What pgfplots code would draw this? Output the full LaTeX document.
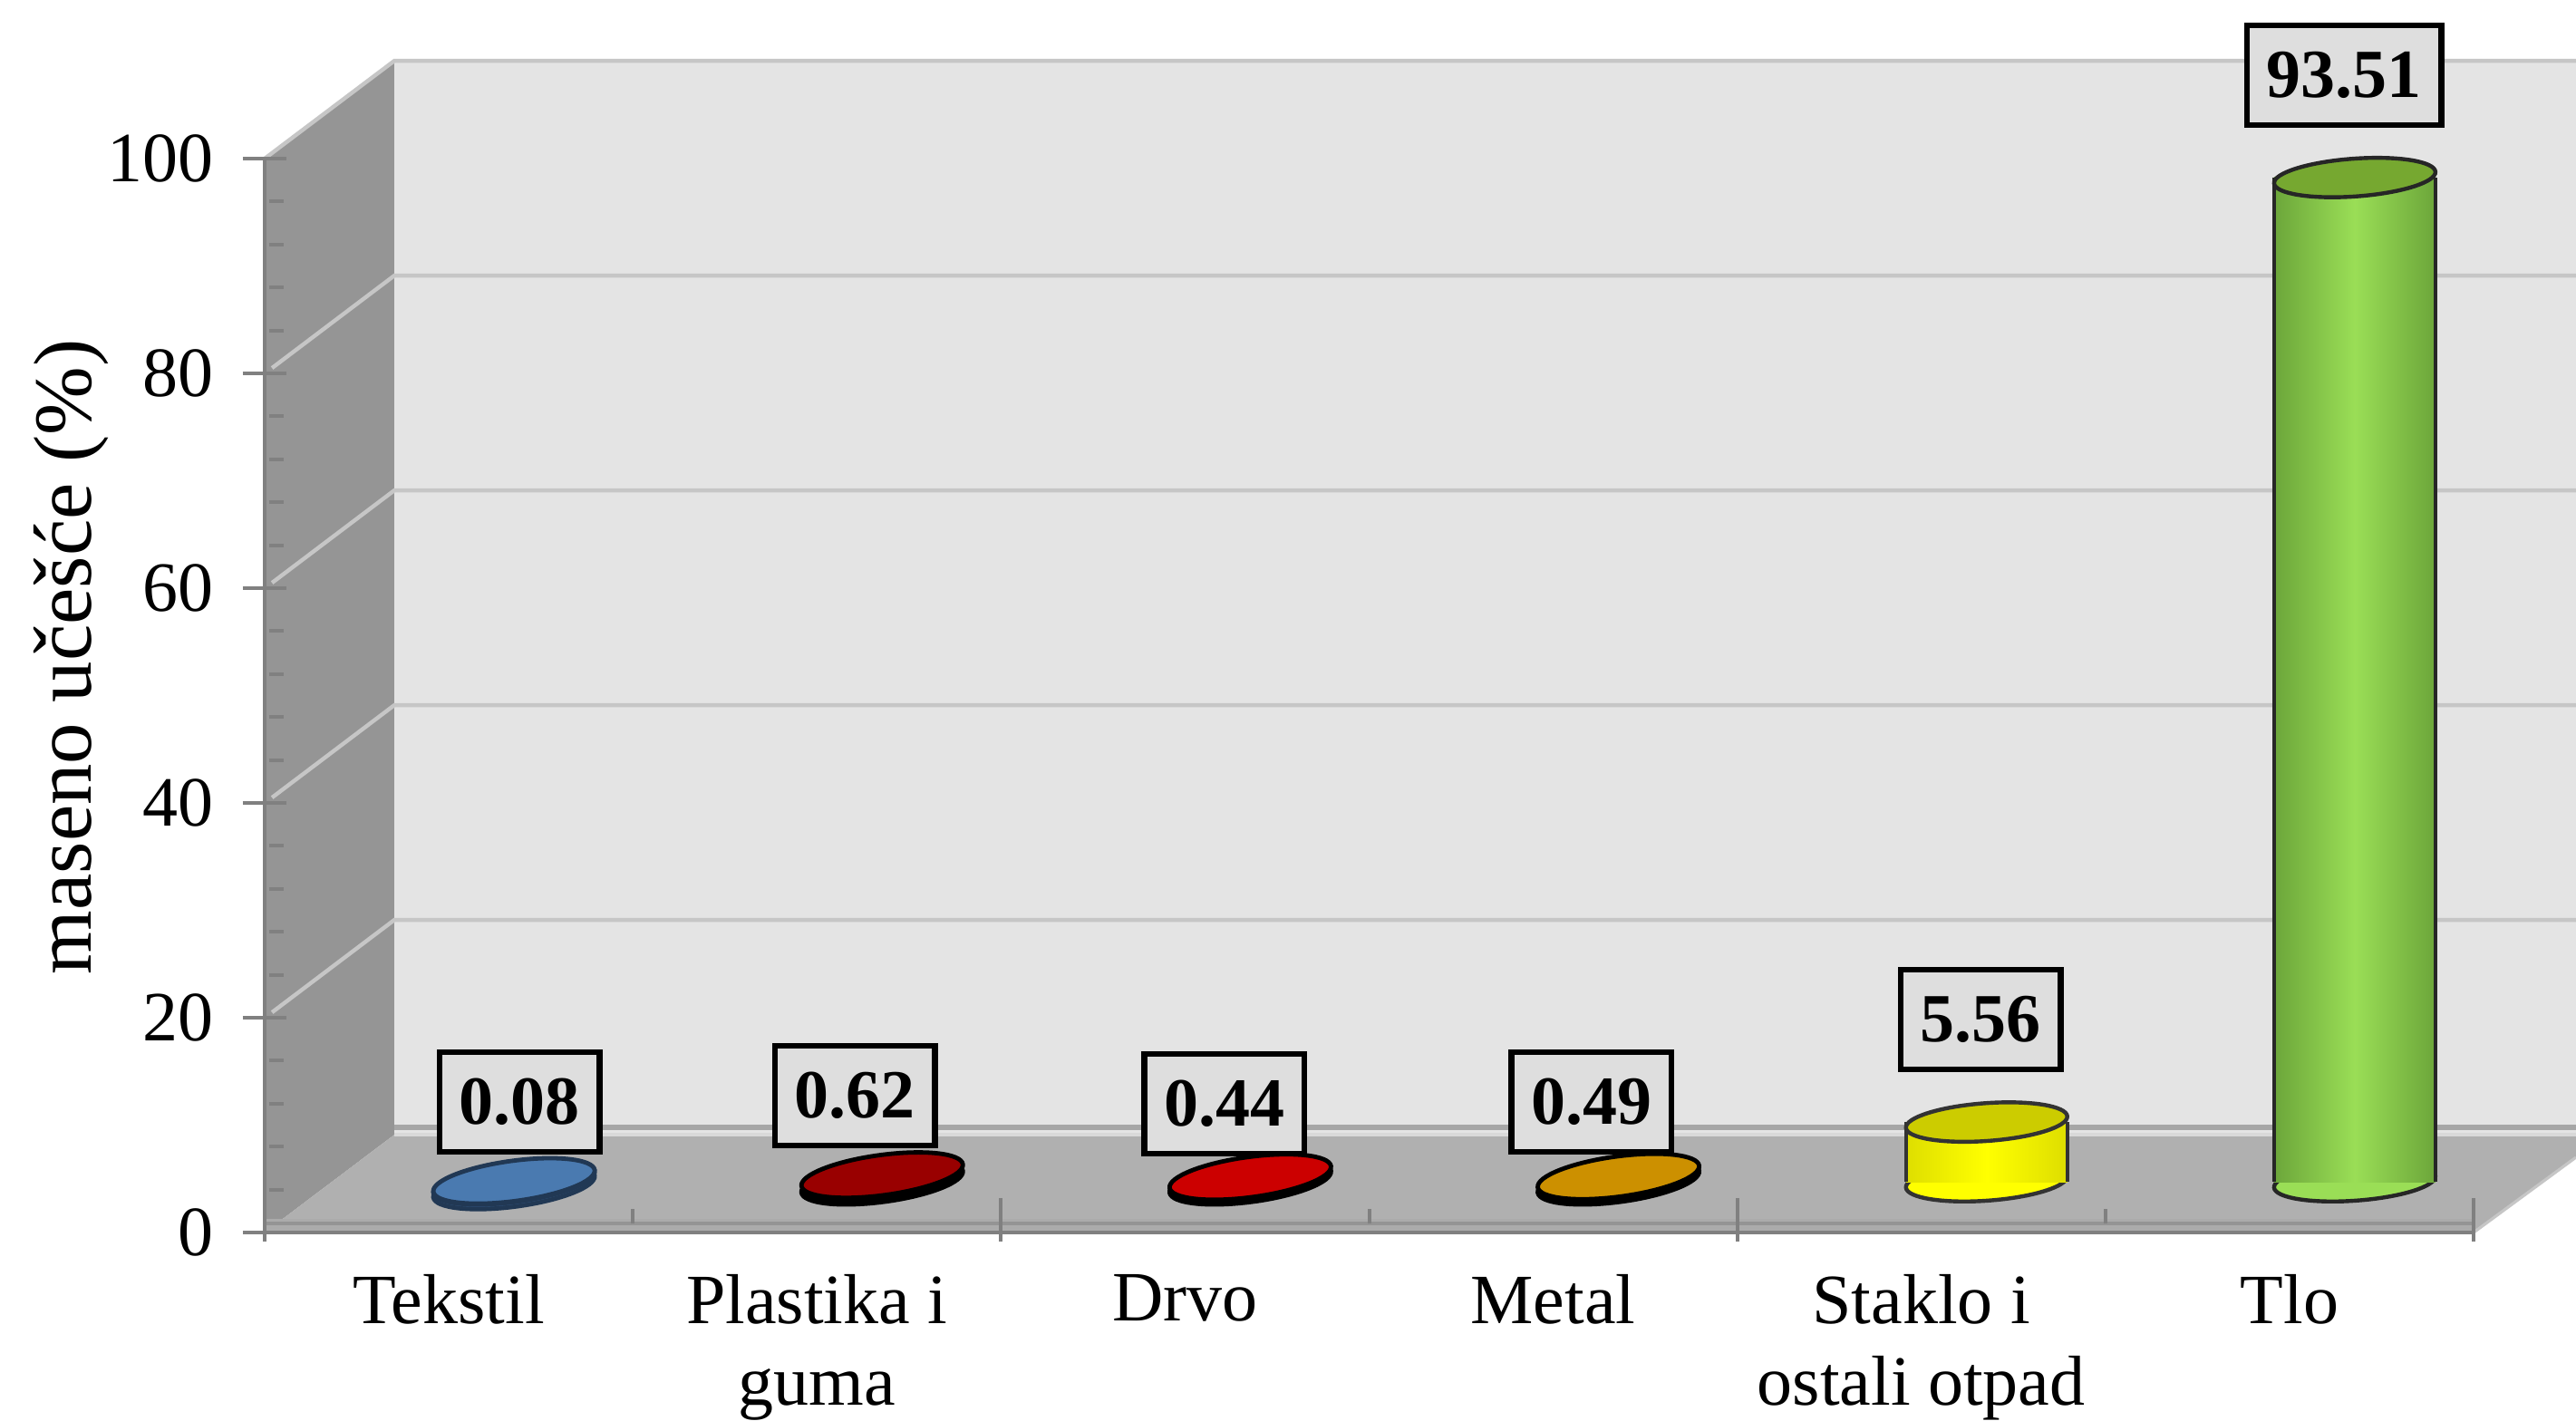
\documentclass[border=0pt]{standalone}
\usepackage{pgfplots}
\usepackage{fontspec}
\setmainfont{Liberation Serif}
\pgfplotsset{compat=1.18}

\definecolor{backwall}{HTML}{E4E4E4}
\definecolor{sidewall}{HTML}{959595}
\definecolor{floorc}{HTML}{B0B0B0}
\definecolor{gridc}{HTML}{C6C6C6}
\definecolor{tickc}{HTML}{808080}
\definecolor{tekstil}{HTML}{4A7AB0}
\definecolor{tekstild}{HTML}{2F5078}
\definecolor{plastika}{HTML}{990000}
\definecolor{drvo}{HTML}{CC0000}
\definecolor{metal}{HTML}{CC9000}
\definecolor{stakloe}{HTML}{DEDE00}
\definecolor{staklom}{HTML}{FFFF00}
\definecolor{staklot}{HTML}{CCCC00}
\definecolor{tloe}{HTML}{6CA63A}
\definecolor{tlom}{HTML}{9ADE56}
\definecolor{tlot}{HTML}{76A830}

% cylinder ends, flat ones lean a bit more
\pgfdeclareplotmark{endflat}{\pgfpathellipse{\pgfpointorigin}{\pgfqpoint{22.25pt}{3pt}}{\pgfqpoint{-0.75pt}{5.5pt}}\pgfusepathqfillstroke}
\pgfdeclareplotmark{endrim}{\pgfpathellipse{\pgfqpoint{0pt}{-1.3pt}}{\pgfqpoint{22.25pt}{3pt}}{\pgfqpoint{-0.75pt}{5.5pt}}\pgfusepathqfillstroke}
\pgfdeclareplotmark{endtall}{\pgfpathellipse{\pgfpointorigin}{\pgfqpoint{22.25pt}{1.6pt}}{\pgfqpoint{-0.4pt}{5.2pt}}\pgfusepathqfillstroke}

\tikzset{cylshift/.style={xshift=18pt,yshift=14pt}}

% x, value, top colour, rim colour, outline
\newcommand{\flatcyl}[5]{%
  \addplot[only marks,cylshift,mark=endflat,mark options={fill=#4,draw=#5,line width=1.2pt}] coordinates {(#1,0)};
  \addplot[only marks,cylshift,mark=endflat,mark options={fill=#3,draw=#5,line width=1.2pt}] coordinates {(#1,#2)};
}
% x, value, edge colour, middle colour, top colour, outline
\newcommand{\tallcyl}[6]{%
  \addplot[only marks,cylshift,mark=endtall,mark options={fill=#4,draw=#6,line width=1.1pt}] coordinates {(#1,0)};
  \addplot[ybar,bar width=44.5pt,bar shift=0pt,draw=none,left color=#3,right color=#3,middle color=#4,cylshift] coordinates {(#1,#2)};
  \addplot[#6,line width=1.1pt,cylshift,xshift=-22.25pt] coordinates {(#1,0) (#1,#2)};
  \addplot[#6,line width=1.1pt,cylshift,xshift=22.25pt] coordinates {(#1,0) (#1,#2)};
  \addplot[only marks,cylshift,mark=endtall,mark options={fill=#5,draw=#6,line width=1.1pt}] coordinates {(#1,#2)};
}

\begin{document}
\begin{tikzpicture}
\useasboundingbox (0,0) rectangle (710.5pt,391.75pt);
\begin{axis}[
  at={(73pt,51.75pt)}, anchor=south west,
  scale only axis, width=609.25pt, height=296.25pt,
  xmin=-0.5, xmax=5.5, ymin=0, ymax=100,
  clip=false, clip mode=individual, axis on top,
  axis lines=left,
  axis line style={-,tickc,line width=1pt},
  % x-axis
  xtick={-0.5,1.5,3.5,5.5},
  xticklabels={},
  minor xtick={0.5,2.5,4.5},
  extra x ticks={0,1,2,3,4,5},
  extra x tick labels={Tekstil,{Plastika i\\guma},Drvo,Metal,{Staklo i\\ostali otpad},Tlo},
  extra x tick style={major tick length=0pt},
  x tick label style={align=center,font=\fontsize{19.5}{22.6}\selectfont,yshift=-8pt},
  x tick style={tickc,line width=1pt},
  xtick align=inside,
  major x tick style={yshift=-2.5pt},
  minor x tick style={yshift=2.5pt},
  major tick length=12pt,
  minor tick length=4pt,
  % y-axis
  ytick={0,20,40,60,80,100},
  minor y tick num=4,
  y tick style={tickc,line width=1pt},
  minor y tick style={black!50,xshift=3.25pt},
  ytick align=center,
  y tick label style={font=\fontsize{19.5}{22}\selectfont,xshift=-4.5pt},
  /pgf/number format/assume math mode=true,
  ylabel={maseno učešće (\%)},
  every axis y label/.style={at={(rel axis cs:-0.0875,0.536)},rotate=90,anchor=center,font=\fontsize{22.7}{26}\selectfont},
]

% walls and floor
\addplot[draw=none,fill=backwall] coordinates {(-0.148,109.1) (5.778,109.1) (5.778,9.1) (-0.148,9.1)} -- cycle;
\addplot[draw=none,fill=sidewall] coordinates {(-0.5,0) (-0.5,100) (-0.148,109.1) (-0.148,9.1)} -- cycle;

% grid on the walls
\addplot[gridc,line width=1.1pt] coordinates {(-0.5,100) (-0.148,109.1) (5.778,109.1)};
\addplot[gridc,line width=1.1pt] coordinates {(-0.48,80.5) (-0.148,89.1) (5.778,89.1)};
\addplot[gridc,line width=1.1pt] coordinates {(-0.48,60.5) (-0.148,69.1) (5.778,69.1)};
\addplot[gridc,line width=1.1pt] coordinates {(-0.48,40.5) (-0.148,49.1) (5.778,49.1)};
\addplot[gridc,line width=1.1pt] coordinates {(-0.48,20.5) (-0.148,29.1) (5.778,29.1)};

\addplot[draw=none,fill=floorc] coordinates {(-0.451,1.27) (-0.148,9.1) (5.778,9.1) (5.778,7.0) (5.5,0)} -- cycle;
\addplot[color=gray!70,line width=1.5pt] coordinates {(-0.148,9.75) (5.778,9.75)};
\addplot[color=black!15,line width=1pt] coordinates {(-0.148,9.1) (5.778,9.1)};
\addplot[color=gridc,line width=0.8pt] coordinates {(5.5,0) (5.778,7.0)};

% front edge of the floor
\addplot[draw=none,fill=black!33] coordinates {(-0.5,0) (-0.5,1.27) (5.5,1.27) (5.5,0)} -- cycle;
\addplot[color=black!42,line width=1pt] coordinates {(-0.5,0.85) (5.5,0.85)};

% cylinders
\addplot[only marks,cylshift,mark=endrim,mark options={fill=tekstild,draw=tekstild!70!black,line width=1.2pt}] coordinates {(0,0)};
\flatcyl{0}{0.08}{tekstil}{tekstild}{tekstild!70!black}
\flatcyl{1}{0.62}{plastika}{black}{black}
\flatcyl{2}{0.44}{drvo}{black}{black}
\flatcyl{3}{0.49}{metal}{black}{black}
\tallcyl{4}{5.56}{stakloe}{staklom}{staklot}{black!80}
\tallcyl{5}{93.51}{tloe}{tlom}{tlot}{black!85}

% value labels
\tikzset{vallabel/.style={draw=black,line width=1.7pt,fill=black!13,inner xsep=5.4pt,inner ysep=0pt,minimum height=27.5pt,font=\fontsize{19}{22}\selectfont\bfseries}}
\node[vallabel] at (axis cs:0.192,12.15) {0.08};
\node[vallabel] at (axis cs:1.103,12.74) {0.62};
\node[vallabel] at (axis cs:2.107,11.98) {0.44};
\node[vallabel] at (axis cs:3.104,12.15) {0.49};
\node[vallabel] at (axis cs:4.161,19.83) {5.56};
\node[vallabel] at (axis cs:5.148,107.76) {93.51};
\end{axis}
\end{tikzpicture}
\end{document}
